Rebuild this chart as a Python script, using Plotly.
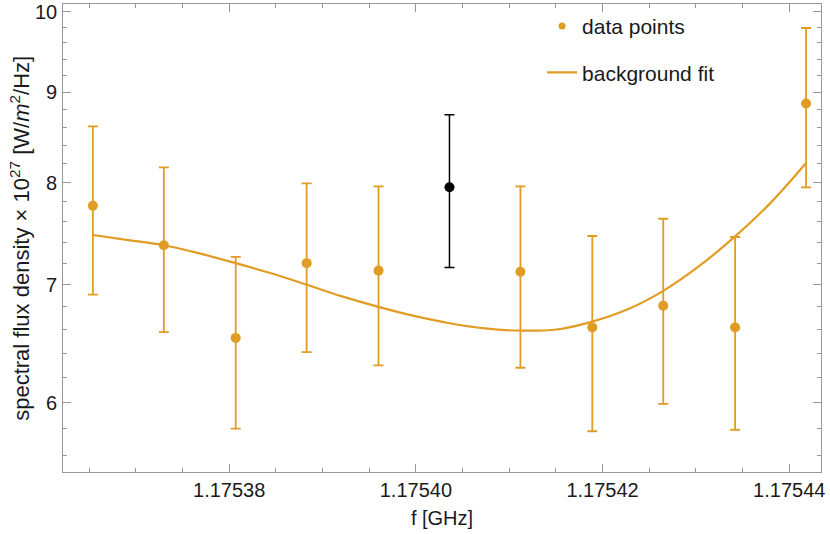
import math

import plotly.graph_objects as go

# 측정 데이터 (f in GHz, flux density x 1e27 W/m^2/Hz)
freq = [1.1753654, 1.1753730, 1.1753807, 1.1753883, 1.1753960, 1.1754036,
        1.1754112, 1.1754189, 1.1754265, 1.1754342, 1.1754418]
flux = [7.76, 7.37, 6.53, 7.20, 7.13, 7.95, 7.12, 6.62, 6.81, 6.62, 8.87]
flux_err = [0.85, 0.79, 0.73, 0.79, 0.83, 0.79, 0.84, 0.84, 0.82, 0.83, 0.92]
highlight = 5  # 검은색으로 표시되는 점

# background fit curve
fit_freq = [1.1753654, 1.1753692, 1.1753730, 1.1753769, 1.1753807, 1.1753845,
            1.1753883, 1.1753921, 1.1753960, 1.1753998, 1.1754036, 1.1754074,
            1.1754112, 1.1754151, 1.1754189, 1.1754227, 1.1754265, 1.1754303,
            1.1754342, 1.1754380, 1.1754418]
fit_flux = [7.47, 7.42, 7.37, 7.29, 7.20, 7.105, 7.00, 6.894, 6.80, 6.72, 6.656,
            6.611, 6.592, 6.602, 6.67, 6.778, 6.944, 7.169, 7.456, 7.79, 8.206]

x_ticks = [1.17538, 1.17540, 1.17542, 1.17544]
y_ticks = [6, 7, 8, 9, 10]
y_minor = [5.6, 5.8, 6.2, 6.4, 6.6, 6.8, 7.2, 7.4, 7.6, 7.8, 8.2, 8.4, 8.6, 8.8,
           9.2, 9.4, 9.6, 9.8]

ORANGE = "#e19c24"
FRAME = "#999999"
TEXT = "#1a1a1a"
FONT = "Liberation Sans, Arial, sans-serif"

idx = [i for i in range(len(freq)) if i != highlight]

fig = go.Figure()

# 데이터 점 (주황)
fig.add_trace(go.Scatter(
    x=[freq[i] for i in idx],
    y=[flux[i] for i in idx],
    error_y=dict(type="data", array=[flux_err[i] for i in idx],
                 color=ORANGE, thickness=1.8, width=5),
    mode="markers",
    marker=dict(color=ORANGE, size=10),
    showlegend=False,
))

# 강조된 점 (검정)
fig.add_trace(go.Scatter(
    x=[freq[highlight]],
    y=[flux[highlight]],
    error_y=dict(type="data", array=[flux_err[highlight]],
                 color="black", thickness=1.5, width=5),
    mode="markers",
    marker=dict(color="black", size=10),
    showlegend=False,
))

fig.add_trace(go.Scatter(
    x=fit_freq,
    y=fit_flux,
    mode="lines",
    line=dict(color=ORANGE, width=2.2, shape="spline"),
    showlegend=False,
))

# 범례 항목 (작은 마커)
fig.add_trace(go.Scatter(
    x=[None], y=[None], mode="markers",
    marker=dict(color=ORANGE, size=7),
    name="data points", legendgroup="a",
))
fig.add_trace(go.Scatter(
    x=[None], y=[None], mode="lines",
    line=dict(color=ORANGE, width=2.2),
    name="background fit", legendgroup="b",
))

axis_common = dict(
    showline=True, linecolor=FRAME, linewidth=1.3, mirror="ticks",
    ticks="inside", tickcolor=FRAME, tickwidth=1, ticklen=8,
    showgrid=False, zeroline=False, automargin=False,
    tickfont=dict(size=20, color=TEXT, family=FONT),
)

fig.update_xaxes(
    range=[1.1753622, 1.1754434],
    tickvals=x_ticks, tickformat=".5f",
    minor=dict(dtick=0.000005, tick0=1.17538, ticks="inside",
               ticklen=4, tickcolor=FRAME, tickwidth=1),
    title=dict(text="f [GHz]", font=dict(size=20, color=TEXT, family=FONT),
               standoff=10),
    **axis_common,
)

fig.update_yaxes(
    type="log",
    range=[0.7388, 1.0044],
    tickvals=y_ticks, showticklabels=False,
    minor=dict(tickmode="array", tickvals=y_minor, ticks="inside",
               ticklen=4, tickcolor=FRAME, tickwidth=1),
    **axis_common,
)

# y축 눈금 라벨: 축에 더 가깝게 두기 위해 annotation 사용
for v in y_ticks:
    fig.add_annotation(
        xref="paper", yref="y", x=0, y=math.log10(v),
        text=str(v), showarrow=False, xanchor="right", xshift=-4,
        font=dict(size=20, color=TEXT, family=FONT),
    )

# y축 제목
fig.add_annotation(
    xref="paper", yref="paper", x=-0.057, y=0.5,
    text="spectral flux density × 10<sup>27</sup> [W/<i>m</i><sup>2</sup>/Hz]",
    textangle=-90, showarrow=False, xanchor="center", yanchor="middle",
    font=dict(size=22, color=TEXT, family=FONT),
)

fig.update_layout(
    width=830, height=534,
    margin=dict(l=63, r=9, t=4, b=62),
    paper_bgcolor="white",
    plot_bgcolor="white",
    font=dict(family=FONT, color=TEXT),
    showlegend=True,
    legend=dict(
        x=0.632, y=0.996, xanchor="left", yanchor="top",
        font=dict(size=21, color=TEXT, family=FONT),
        bgcolor="rgba(0,0,0,0)",
        itemwidth=30,
        tracegroupgap=16,
    ),
)

# 페이지 기본 여백 제거
fig.write_html("out.html", config={"displayModeBar": False},
               post_script="document.body.style.margin='0px';")
